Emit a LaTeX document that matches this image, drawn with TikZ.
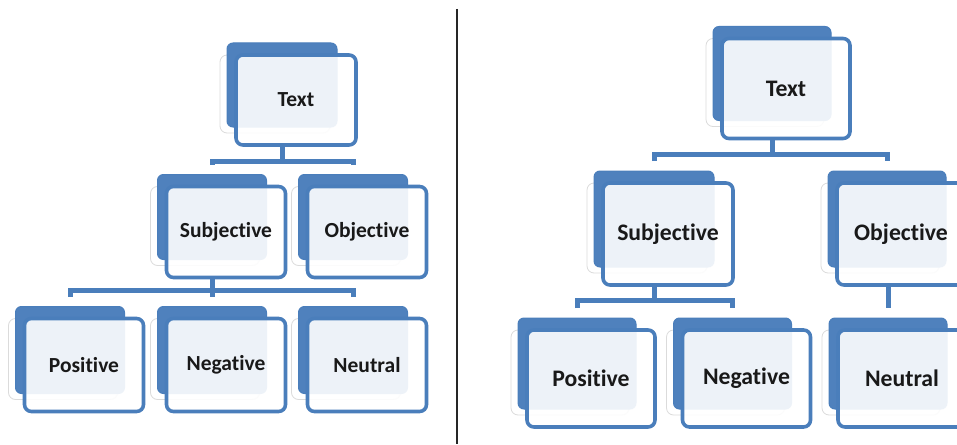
\documentclass[tikz,border=0pt]{standalone}
\usepackage{fontspec}
\setmainfont{Carlito}[Ligatures={NoCommon}]
\definecolor{bl}{RGB}{74,126,187}
\definecolor{blfill}{RGB}{79,129,189}
\definecolor{txt}{RGB}{25,25,25}
\tikzset{
  shbox/.style={rectangle, rounded corners=7pt, fill=white, draw=black!14, line width=0.8pt, inner sep=0pt, outer sep=0pt},
  backbox/.style={rectangle, rounded corners=6pt, fill=blfill, draw=bl, line width=1pt, inner sep=0pt, outer sep=0pt},
  frontbox/.style={rectangle, rounded corners=7pt, draw=bl, line width=3.6pt, fill=white, fill opacity=0.9, draw opacity=1, text opacity=1, inner sep=0pt, outer sep=0pt, text=txt},
  conn/.style={draw=bl, line width=5pt},
  divider/.style={draw=black!85, line width=2pt}
}
% name, cx, cy, w, h, fontsize, text
\newcommand\mybox[7]{%
  \node[shbox, minimum width={(#4-10)*1pt}, minimum height={(#5-12)*1pt}] (#1-s) at (#2-21,#3-6) {};
  \node[backbox, minimum width={(#4-10)*1pt}, minimum height={(#5-6)*1pt}] (#1-b) at (#2-14,#3-15) {};
  \node[frontbox, minimum width={#4*1pt}, minimum height={#5*1pt}, font=\fontsize{#6}{#6}\selectfont\bfseries] (#1) at (#2,#3) {#7};
}
\begin{document}
\begin{tikzpicture}[x=1pt,y=-1pt]
\useasboundingbox (0,0) rectangle (957,444);
\clip (0,0) rectangle (957,444);
\fill[white] (0,0) rectangle (957,444);
% divider
\coordinate (D1) at (456.5,9);
\coordinate (D2) at (456.5,444);
\draw[divider] (D1) -- (D2);
% left tree
\mybox{LT}{296}{100}{120}{90}{21.5}{Text}
\mybox{LS}{226}{232}{119}{91}{21.5}{Subjective}
\mybox{LO}{367}{232}{119}{91}{21.5}{Objective}
\mybox{LP}{84}{365}{119}{93}{21.5}{Positive}
\mybox{LN}{226}{365}{119}{93}{21.5}{Negative}
\mybox{LU}{367}{365}{119}{93}{21.5}{Neutral}
\coordinate (LB1) at (0,161);
\coordinate (LB2) at (0,290);
\draw[conn] (LT-b.center |- LT.south) -- (LT-b.center |- LB1);
\draw[conn] ([yshift=10pt]LS-b.north) -- (LS-b.north |- LB1) -- (LO-b.north |- LB1) -- ([yshift=10pt]LO-b.north);
\draw[conn] (LN-b.north |- LS.south) -- ([yshift=10pt]LN-b.north);
\draw[conn] ([yshift=10pt]LP-b.north) -- (LP-b.north |- LB2) -- (LU-b.north |- LB2) -- ([yshift=10pt]LU-b.north);
% right tree
\mybox{RT}{786}{88.5}{128}{100}{23.7}{Text}
\mybox{RS}{668}{234}{130}{102}{23.7}{Subjective}
\mybox{RO}{901}{234}{128}{102}{23.7}{Objective}
\mybox{RP}{591}{378.5}{128}{97}{23.7}{Positive}
\mybox{RN}{746.5}{378.5}{128}{97}{23.7}{Negative}
\mybox{RU}{902}{378.5}{128}{97}{23.7}{Neutral}
\coordinate (RB1) at (0,154);
\coordinate (RB2) at (0,300);
\draw[conn] (RT-b.center |- RT.south) -- (RT-b.center |- RB1);
\draw[conn] ([yshift=10pt]RS-b.north) -- (RS-b.north |- RB1) -- (RO-b.north |- RB1) -- ([yshift=10pt]RO-b.north);
\draw[conn] (RS-b.center |- RS.south) -- (RS-b.center |- RB2);
\draw[conn] ([yshift=10pt]RP-b.north) -- (RP-b.north |- RB2) -- (RN-b.north |- RB2) -- ([yshift=10pt]RN-b.north);
\draw[conn] (RU-b.north |- RO.south) -- ([yshift=10pt]RU-b.north);
\end{tikzpicture}
\end{document}
